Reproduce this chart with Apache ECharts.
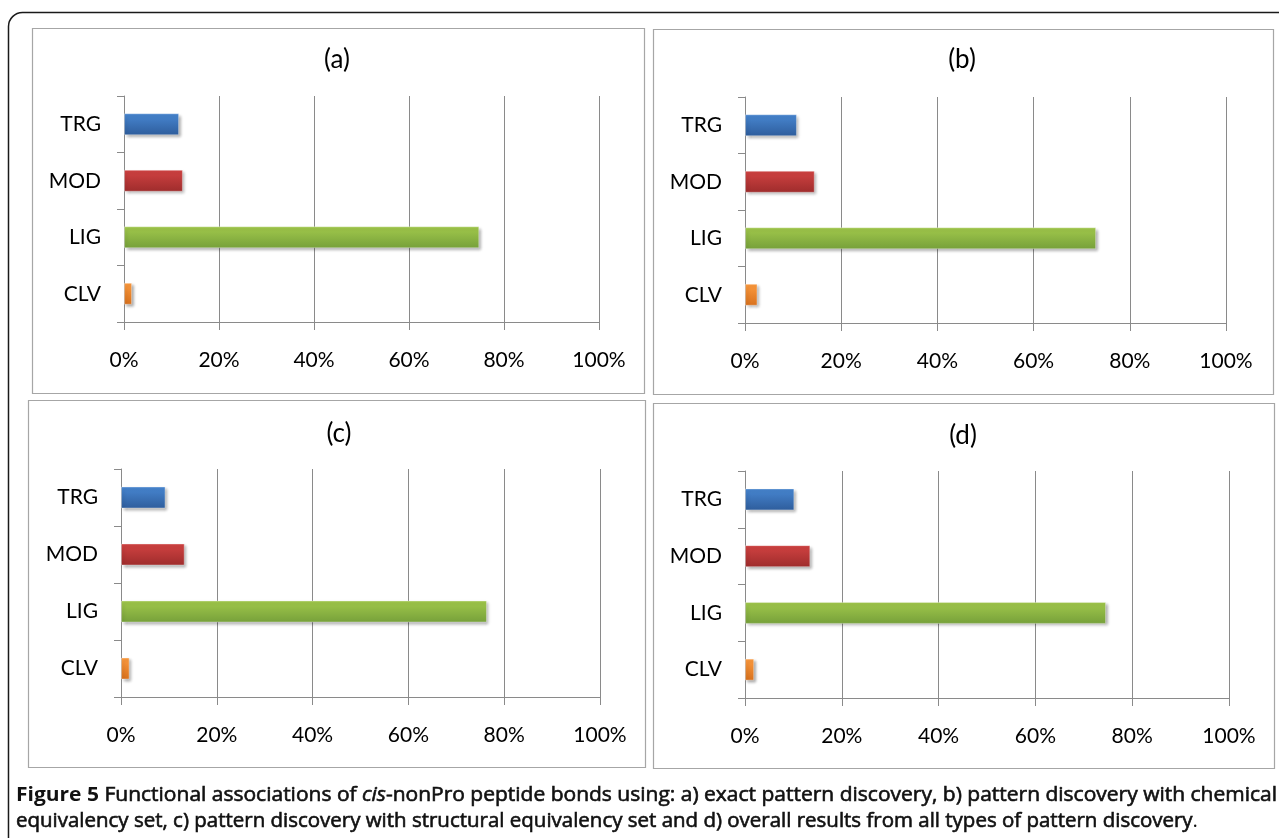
<!DOCTYPE html>
<html>
<head>
<meta charset="utf-8">
<script src="https://cdn.jsdelivr.net/npm/echarts@6/dist/echarts.min.js"></script>
<style>
html,body{margin:0;padding:0;background:#fff;overflow:hidden;}
#chart{width:1279px;height:838px;}
</style>
</head>
<body>
<div id="chart"></div>
<script>
// ---- data ----
const categories = ['CLV', 'LIG', 'MOD', 'TRG'];
const valuesA = [1.7, 74.8, 12.4, 11.6];
const valuesB = [2.6, 73.0, 14.5, 10.8];
const valuesC = [1.8, 76.4, 13.3, 9.3];
const valuesD = [1.9, 74.6, 13.5, 10.2];
const panelTitles = ['(a)', '(b)', '(c)', '(d)'];
const captionLabel = 'Figure 5';
const captionLine1 = ' Functional associations of ';
const captionItalic = 'cis';
const captionLine1b = '-nonPro peptide bonds using: a) exact pattern discovery, b) pattern discovery with chemical';
const captionLine2 = 'equivalency set, c) pattern discovery with structural equivalency set and d) overall results from all types of pattern discovery';

// ---- styles / layout ----
const FONT = 'Lato, "Open Sans", sans-serif';
const catColors = [
  ['#fd9b3f', '#d8711d'], // CLV orange
  ['#a2c94c', '#76a03a'], // LIG green
  ['#d24342', '#9e2c2c'], // MOD red
  ['#4887d2', '#2e5d9c']  // TRG blue
];
const grids = [
  {left: 124, top: 96, width: 475, height: 226},
  {left: 745, top: 97, width: 481, height: 226},
  {left: 121, top: 469, width: 479, height: 228},
  {left: 745, top: 471, width: 484, height: 227}
];
const boxes = [
  {x: 32.5, y: 28.5, width: 612, height: 365},
  {x: 653.5, y: 29.5, width: 620, height: 365},
  {x: 28.5, y: 400.5, width: 617, height: 367},
  {x: 653.5, y: 403.5, width: 621, height: 365}
];
const titlePos = [[337, 60], [962, 60], [339, 434], [963, 436]];
const allValues = [valuesA, valuesB, valuesC, valuesD];

const gridLineColor = '#8a8a8a';

const option = {
  animation: false,
  grid: grids,
  xAxis: grids.map((g, i) => ({
    type: 'value', gridIndex: i, min: 0, max: 100, interval: 20,
    axisLine: {show: true, lineStyle: {color: gridLineColor, width: 1}},
    axisTick: {show: true, length: 8, lineStyle: {color: gridLineColor}},
    splitLine: {show: true, lineStyle: {color: gridLineColor, width: 1}},
    axisLabel: {formatter: '{value}%', color: '#000', fontSize: 21, fontFamily: FONT, margin: 28}
  })),
  yAxis: grids.map((g, i) => ({
    type: 'category', gridIndex: i, data: categories,
    axisLine: {show: true, lineStyle: {color: gridLineColor, width: 1}},
    axisTick: {show: true, length: 7, lineStyle: {color: gridLineColor}},
    axisLabel: {color: '#000', fontSize: 21, fontFamily: FONT, margin: 23}
  })),
  series: allValues.map((vals, i) => ({
    type: 'bar', xAxisIndex: i, yAxisIndex: i, barWidth: 22,
    data: vals.map((v, k) => ({
      value: v,
      itemStyle: {
        color: {type: 'linear', x: 0, y: 0, x2: 0, y2: 1,
          colorStops: [{offset: 0, color: catColors[k][0]}, {offset: 1, color: catColors[k][1]}]},
        borderColor: 'rgba(255,255,255,0.35)', borderWidth: 1,
        shadowColor: 'rgba(0,0,0,0.35)', shadowBlur: 3, shadowOffsetX: 2, shadowOffsetY: 2
      }
    }))
  })),
  graphic: []
};

// panel boxes and titles
boxes.forEach((b, i) => {
  option.graphic.push({type: 'rect', silent: true, z: -1,
    shape: {x: b.x, y: b.y, width: b.width, height: b.height},
    style: {fill: 'none', stroke: '#a6a6a6', lineWidth: 1.2}});
  option.graphic.push({type: 'text', silent: true, x: titlePos[i][0], y: titlePos[i][1],
    style: {text: panelTitles[i], fill: '#000', font: '26px ' + FONT, textAlign: 'center', textVerticalAlign: 'middle'}});
});

// outer rounded frame
option.graphic.push({type: 'rect', silent: true, z: -2,
  shape: {x: 8.5, y: 12.5, width: 1300, height: 850, r: 14},
  style: {fill: 'none', stroke: '#1a1a1a', lineWidth: 1.5}});

// caption, fitted horizontally (semi-bold simulated with a thin text outline)
const CAP_FONT_FAMILY = '"Open Sans", "Noto Sans", sans-serif';
const CAP_SIZE = 20;
const cv = document.createElement('canvas').getContext('2d');
function w(t, style) { cv.font = style + ' ' + CAP_SIZE + 'px ' + CAP_FONT_FAMILY; return cv.measureText(t).width; }
const line1W = w(captionLabel, 'bold') + w(captionLine1, 'normal') + w(captionItalic, 'italic') + w(captionLine1b, 'normal');
const line2W = w(captionLine2 + '.', 'normal');
const sx1 = 1261 / line1W;
const sx2 = 1182 / line2W;
const rich = {
  b: {fontWeight: 'bold', fontSize: CAP_SIZE, fontFamily: CAP_FONT_FAMILY, fill: '#111'},
  s: {fontWeight: 'normal', fontSize: CAP_SIZE, fontFamily: CAP_FONT_FAMILY, fill: '#111', stroke: '#111', lineWidth: 0.6},
  si: {fontWeight: 'normal', fontStyle: 'italic', fontSize: CAP_SIZE, fontFamily: CAP_FONT_FAMILY, fill: '#111', stroke: '#111', lineWidth: 0.6},
  n: {fontWeight: 'normal', fontSize: CAP_SIZE, fontFamily: CAP_FONT_FAMILY, fill: '#111'}
};
option.graphic.push({type: 'text', x: 16, y: 795, scaleX: sx1, silent: true,
  style: {text: '{b|' + captionLabel + '}{s|' + captionLine1 + '}{si|' + captionItalic + '}{s|' + captionLine1b + '}', rich: rich, textVerticalAlign: 'middle'}});
option.graphic.push({type: 'text', x: 16, y: 821, scaleX: sx2, silent: true,
  style: {text: '{s|' + captionLine2 + '}{n|.}', rich: rich, textVerticalAlign: 'middle'}});

const chart = echarts.init(document.getElementById('chart'));
chart.setOption(option);
</script>
</body>
</html>
